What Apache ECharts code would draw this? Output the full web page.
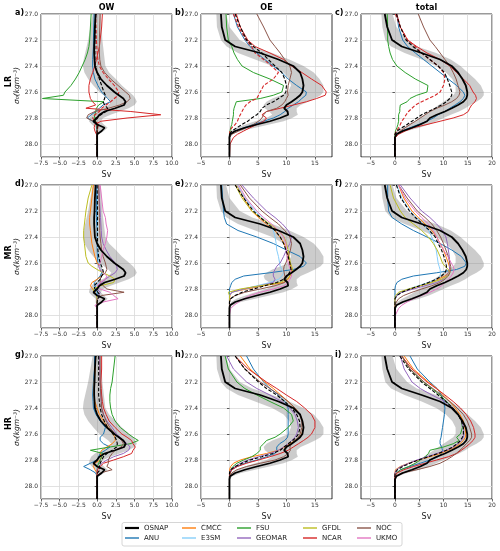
<!DOCTYPE html>
<html><head><meta charset="utf-8">
<script src="https://cdn.jsdelivr.net/npm/echarts@6/dist/echarts.min.js"></script>
<style>html,body{margin:0;padding:0;background:#fff}#c{width:500px;height:551px}</style>
</head><body><div id="c"></div>
<script>
// density levels (sigma0, kg m-3)
const LEV = [27.0,27.1,27.2,27.25,27.3,27.35,27.4,27.45,27.5,27.55,27.6,27.625,27.65,27.675,27.7,27.725,27.75,27.775,27.8,27.825,27.85,27.875,27.9,27.925,27.95,28.0,28.1];

// OSNAP observations and uncertainty band
const OSNAP_OW  = [-0.2,-0.3,-0.35,-0.4,-0.4,-0.35,-0.3,0.0,0.5,1.3,2.3,2.9,3.5,3.8,3.6,2.4,1.0,0.3,0.0,-0.5,0.0,1.0,0.6,0.0,0,0,0];
const BAND_OW_LO = [-0.6,-0.9,-1.2,-1.4,-1.6,-1.8,-1.9,-1.7,-1.2,-0.5,0.3,0.9,1.5,1.9,1.5,0.7,-0.3,-0.8,-1.0,-1.1,-0.7,-0.2,-0.2,-0.1,0,0,0];
const BAND_OW_HI = [0.5,0.6,0.7,0.8,0.9,1.0,1.1,1.6,2.5,3.3,4.3,4.8,5.1,5.3,5.0,4.2,3.0,1.8,0.8,0.5,0.9,1.4,0.9,0.2,0,0,0];
const OSNAP_OE  = [-1.5,-1.35,-0.75,1.0,5.4,8.6,11.2,12.4,12.8,13.0,12.8,12.4,11.7,10.9,10.0,9.6,10.2,10.3,8.9,7.1,4.8,2.7,1.0,0.1,0,0,0];
const BAND_OE_LO = [-2.3,-2.2,-1.5,-0.5,1.5,4.5,7.5,9.5,10.5,10.8,10.3,9.0,7.5,6.5,6.0,6.2,7.0,7.5,6.5,4.5,2.8,1.2,0.3,0,0,0,0];
const BAND_OE_HI = [-0.6,0.0,1.8,4.0,7.5,10.5,13.0,14.8,15.8,16.5,16.5,16.0,15.0,13.8,12.5,11.8,11.8,12.0,11.0,9.5,7.0,4.5,2.0,0.5,0,0,0];
const OSNAP_TOT = [-2.1,-1.6,-0.6,1.4,5.5,9.3,11.7,13.0,13.9,14.6,14.9,14.9,14.7,14.1,13.0,11.7,10.3,8.6,7.2,6.6,5.2,3.5,1.6,0.3,0,0,0];
const BAND_TOT_LO = [-2.8,-2.6,-2.0,-0.8,2.0,5.5,8.5,10.5,11.8,12.5,12.5,12.0,11.0,10.0,9.0,8.0,7.0,6.0,5.0,4.0,2.8,1.5,0.5,0,0,0,0];
const BAND_TOT_HI = [-0.5,0.3,2.5,4.5,8.5,11.5,13.5,15.0,16.5,17.7,18.3,18.3,17.8,16.8,15.5,14.5,13.2,11.5,10.0,8.5,7.0,5.0,2.5,0.5,0,0,0];

// LR models
const LR_OW_ANU  = [-0.4,-0.45,-0.5,-0.5,-0.55,-0.6,-0.6,-0.5,-0.3,0.1,0.6,1.0,1.4,1.8,0.8,0.3,-0.2,-0.8,-1.3,-0.6,0.0,0.0,-0.1,0,0,0,0];
const LR_OW_FSU  = [-0.8,-0.9,-1.0,-1.1,-1.3,-1.6,-2.0,-2.4,-2.9,-3.5,-4.3,-4.5,-7.3,0.9,0.2,-0.1,-0.2,-0.3,-0.4,-0.2,0,0,0,0,0,0,0];
const LR_OW_NCAR = [0.7,0.6,0.4,0.3,0.1,-0.1,-0.3,-0.6,-0.9,-1.1,-1.1,-1.0,-0.9,-0.6,-0.2,-1.5,4.5,8.5,4.0,0.5,-0.3,-0.4,-0.3,-0.1,0,0,0];
const LR_OW_NCAR2 = [-0.2,-0.15,-0.1,-0.05,0.0,0.1,0.3,0.8,1.5,2.3,2.9,2.8,2.3,1.8,1.2,0.6,0.3,-0.3,-0.6,-0.3,0.2,0,0,0,0,0,0];
const LR_OW_NOC  = [0.4,0.35,0.3,0.3,0.3,0.35,0.5,1.0,1.8,2.8,3.8,4.3,4.4,4.0,3.0,1.5,-0.3,-1.2,-1.4,-0.5,0.2,0.1,0,0,0,0,0];
const LR_OW_MEAN = [-0.2,-0.25,-0.3,-0.3,-0.3,-0.3,-0.3,0.0,0.3,0.6,0.9,1.1,1.0,0.8,1.0,1.4,1.2,0.5,-0.2,-0.3,0.0,0,0,0,0,0,0];

const LR_OE_ANU  = [0.7,1.4,2.7,3.6,4.8,6.2,7.7,9.2,10.3,11.8,13.5,13.4,12.7,12.1,11.2,10.3,9.7,8.9,7.7,6.0,4.2,2.5,1.0,0.2,0,0,0];
const LR_OE_FSU  = [-0.6,-0.5,-0.2,0.4,0.8,1.4,2.2,4.2,7.1,9.5,9.2,7.7,5.4,1.2,1.0,0.8,0.7,0.7,0.6,0.5,0.4,0.2,0.1,0,0,0,0];
const LR_OE_NCAR = [1.2,1.9,3.2,4.5,7.1,9.5,10.9,12.7,14.4,16.2,17.0,16.8,15.3,13.5,11.2,8.9,6.5,5.7,6.5,6.0,4.8,3.6,2.5,1.4,0.7,0.1,0];
const LR_OE_NCAR2 = [0.7,1.6,2.9,3.9,4.5,6.0,7.4,8.6,7.7,6.0,5.4,5.1,4.8,3.6,2.9,2.5,2.2,1.9,1.6,1.4,1.0,0.4,0.1,0,0,0,0];
const LR_OE_NOC  = [4.8,6.0,7.1,8.0,8.9,9.7,10.6,10.9,10.6,10.3,10.2,10.3,10.0,9.7,9.2,8.3,6.5,6.0,5.7,5.1,4.2,2.9,1.6,0.4,0,0,0];
const LR_OE_MEAN = [1.0,1.9,3.0,4.2,5.7,6.8,8.0,9.2,9.7,10.0,9.9,9.5,8.6,7.7,6.5,5.7,5.4,4.8,3.9,3.2,2.2,1.3,0.4,0,0,0,0];

const LR_TOT_ANU  = [0.4,0.75,1.6,2.6,4.2,5.9,7.6,9.3,11.0,12.7,14.1,14.4,14.1,13.4,12.4,11.3,10.3,8.9,7.9,6.6,4.8,3.1,1.4,0.4,0,0,0];
const LR_TOT_FSU  = [-1.6,-1.5,-1.5,-1.3,-1.0,-0.5,0.4,2.1,4.2,6.8,6.6,4.5,3.1,2.5,1.1,1.0,1.0,0.75,0.75,0.75,0.6,0.4,0.1,0,0,0,0];
const LR_TOT_NCAR = [0.4,1.1,2.6,4.5,6.6,9.3,11.3,12.7,14.1,15.4,16.1,16.6,16.8,16.5,15.8,15.4,15.1,14.1,12.0,9.3,6.6,3.8,2.1,0.75,0.1,0,0];
const LR_TOT_NCAR2 = [0.1,1.1,2.6,4.2,5.5,7.2,8.9,10.0,10.3,10.0,9.3,8.3,6.9,5.5,4.2,3.5,2.8,2.3,1.9,1.4,1.1,0.75,0.3,0,0,0,0];
const LR_TOT_NOC  = [4.8,5.9,7.2,8.3,9.3,10.3,11.3,12.0,12.6,13.0,13.4,13.2,12.7,11.7,10.3,8.6,7.2,6.2,5.2,4.2,3.1,2.1,1.1,0.3,0,0,0];
const LR_TOT_MEAN = [0.3,1.1,2.3,3.7,5.5,7.2,8.9,10.2,10.8,11.3,11.7,11.7,11.3,10.6,9.6,8.3,6.9,5.5,4.5,3.5,2.5,1.4,0.4,0,0,0,0];

// MR models
const MR_OW_ANU    = [-0.1,-0.1,-0.1,-0.1,-0.05,0,0,0,0,0.05,0.1,0.2,0.4,0.6,0.4,0,-0.4,-0.3,0,0,0,0,0,0,0,0,0];
const MR_OW_CMCC   = [-0.5,-0.7,-0.9,-1.0,-1.0,-0.9,-0.8,-0.7,-0.5,-0.3,0.0,0.4,0.6,0.8,0.6,0.0,-0.7,-0.9,-0.6,-0.3,0,0,0,0,0,0,0];
const MR_OW_E3SM   = [0,0.05,0.05,0.05,0.05,0.05,0.05,0.05,0.05,0.2,0.3,0.4,0.6,0.8,0.6,0.4,0.2,-0.3,-0.4,-0.1,0,0,0,0,0,0,0];
const MR_OW_GEOMAR = [0.2,0.3,0.4,0.45,0.5,0.55,0.6,0.8,1.2,1.7,2.4,2.6,2.7,2.4,1.7,1.1,0.6,0.2,0,0.4,0.2,0,0,0,0,0,0];
const MR_OW_GFDL   = [-0.7,-1.2,-1.5,-1.6,-1.7,-1.8,-1.8,-1.7,-1.6,-1.5,-1.2,-0.7,0,0.8,1.7,2.4,2.2,0.4,-0.5,-0.4,-0.1,0,0,0,0,0,0];
const MR_OW_NOC    = [0.2,0.25,0.3,0.3,0.35,0.35,0.4,0.5,0.6,0.8,1.1,1.2,1.3,1.1,0.6,0.4,0.4,0.8,1.3,3.6,0.6,0,0,0,0,0,0];
const MR_OW_UKMO   = [0.4,0.6,0.8,1.1,1.2,1.4,1.3,1.1,0.8,0.6,0.4,0.2,0.4,0.8,1.3,1.1,0.4,0,0.4,1.7,2.2,2.8,0.8,-0.3,0,0,0];
const MR_OW_MEAN   = [0,0.02,0.05,0.05,0.05,0.05,0.05,0.05,0.1,0.2,0.4,0.6,0.75,0.85,0.6,0.4,0,-0.4,-0.3,0.1,0.4,0.1,0,0,0,0,0];

const MR_OE_ANU    = [-1.35,-1.2,-1.05,-0.9,-0.5,1.5,4.8,7.7,10.0,12.4,13.5,13.0,11.2,7.1,2.5,1.0,0.4,0.2,0,0,0,0,0,0,0,0,0];
const MR_OE_CMCC   = [1.3,2.5,3.9,5.1,6.5,8.0,8.9,9.6,10.0,10.3,10.6,10.7,10.9,10.8,10.6,10.3,9.5,6.0,3.0,0.4,0.1,0,0,0,0,0,0];
const MR_OE_E3SM   = [1.4,2.7,4.5,5.7,6.8,7.7,8.0,8.2,8.3,8.6,8.8,8.9,9.2,9.5,9.2,8.6,7.1,4.8,2.5,0.4,0,0,0,0,0,0,0];
const MR_OE_GEOMAR = [2.2,4.2,6.5,8.0,9.3,10.3,10.9,10.6,10.0,9.5,8.9,8.3,8.0,7.7,7.7,8.0,7.7,5.4,2.5,0.4,0,0,0,0,0,0,0];
const MR_OE_GFDL   = [1.0,2.2,3.9,5.4,7.1,8.6,9.6,10.0,10.3,10.5,10.7,10.9,11.1,10.9,10.6,10.0,8.9,5.4,1.9,-0.2,0,0,0,0,0,0,0];
const MR_OE_NOC    = [1.9,3.5,5.7,7.1,8.6,9.7,10.6,10.9,10.7,10.3,9.9,9.6,9.5,9.6,9.7,10.0,9.7,8.0,5.4,2.7,1.0,0.2,0,0,0,0,0];
const MR_OE_UKMO   = [1.6,2.9,4.8,6.0,7.4,8.6,9.5,9.9,10.0,10.1,10.3,10.5,10.7,10.9,10.9,10.6,10.3,9.5,7.7,5.4,3.6,2.5,1.6,0.8,0.2,0,0];
const MR_OE_MEAN   = [1.0,2.5,4.2,5.4,6.8,8.0,8.9,9.5,9.9,10.3,10.6,10.7,10.8,10.5,10.2,9.5,8.3,6.2,4.2,2.2,1.0,0.2,0,0,0,0,0];

const MR_TOT_ANU    = [-1.5,-1.5,-1.3,-0.6,1.4,3.8,6.6,9.3,11.7,13.7,14.7,14.4,12.7,8.6,3.8,1.4,0.4,0.1,0,0,0,0,0,0,0,0,0];
const MR_TOT_CMCC   = [0.75,1.8,3.5,4.8,6.2,7.6,8.6,9.3,10.0,10.5,11.0,11.2,11.3,11.0,10.3,8.9,7.2,5.2,3.1,1.1,0.3,0,0,0,0,0,0];
const MR_TOT_E3SM   = [0.4,1.4,3.1,4.4,5.7,6.9,7.6,8.1,8.5,8.7,8.9,9.1,9.3,9.4,9.3,8.6,6.9,4.8,2.8,1.1,0.3,0,0,0,0,0,0];
const MR_TOT_GEOMAR = [1.1,3.1,5.5,7.2,8.6,9.8,10.5,10.8,11.0,11.2,11.3,11.3,11.2,11.0,10.6,10.0,8.6,6.2,3.8,1.4,0.4,0,0,0,0,0,0];
const MR_TOT_GFDL   = [-1.0,-0.3,1.1,2.1,3.8,5.5,6.9,7.9,8.7,9.3,9.8,10.3,11.0,11.3,10.8,9.6,7.6,5.2,2.8,0.75,0.1,0,0,0,0,0,0];
const MR_TOT_NOC    = [0.75,2.5,4.6,6.2,7.6,8.6,9.4,10.0,10.5,11.0,11.3,11.5,11.5,11.3,11.0,10.3,9.3,7.6,5.5,3.5,1.8,0.75,0.3,0,0,0,0];
const MR_TOT_UKMO   = [0.75,2.1,4.2,5.5,6.9,7.9,8.6,9.3,10.0,10.9,11.6,12.0,12.2,12.0,11.6,11.0,10.3,9.6,8.6,7.2,5.5,3.8,2.5,1.4,0.75,0.1,0];
const MR_TOT_MEAN   = [0.3,1.2,3.0,4.2,5.7,7.1,8.3,8.9,9.6,10.1,10.5,10.6,10.6,10.3,9.6,8.5,6.9,5.1,3.1,1.4,0.4,0,0,0,0,0,0];

// HR models
const HR_OW_ANU    = [-0.35,-0.35,-0.5,-0.55,-0.6,-0.55,-0.5,-0.15,0.4,1.1,0.85,0.4,0.4,0.85,1.7,1.1,0.4,0.2,0,-0.9,-1.8,-0.9,-0.2,0,0,0,0];
const HR_OW_CMCC   = [-0.2,-0.25,-0.4,-0.4,-0.4,-0.3,0,0.3,0.85,1.5,2.1,2.4,2.4,2.0,1.3,0.6,0.4,0.6,0.4,-0.3,-0.5,-0.3,0,0,0,0,0];
const HR_OW_FSU    = [2.4,2.2,2.0,1.8,1.7,1.7,1.8,2.0,2.4,3.1,4.2,4.8,5.5,4.4,1.7,-0.9,0.8,0.6,0.4,0.2,0.05,0,0,0,0,0,0];
const HR_OW_GEOMAR = [0.3,0.35,0.4,0.45,0.5,0.55,0.6,0.85,1.3,2.0,2.6,3.1,3.5,4.0,4.4,4.2,3.5,2.2,1.3,0.6,0.2,0,0,0,0,0,0];
const HR_OW_NCAR   = [0.6,0.6,0.5,0.55,0.6,0.7,0.85,1.2,1.6,2.4,3.3,4.0,4.6,4.8,5.1,4.8,4.6,3.5,2.2,0.85,0.4,0.05,0,0,0,0,0];
const HR_OW_NOC    = [0.4,0.4,0.4,0.45,0.5,0.55,0.6,0.85,1.2,1.7,2.4,2.8,3.3,3.5,3.2,2.4,2.0,1.7,1.5,1.5,1.3,2.0,0.4,0,0,0,0];
const HR_OW_MEAN   = [0.2,0.2,0.2,0.2,0.2,0.3,0.4,0.6,0.95,1.4,2.1,2.4,2.6,2.7,2.6,2.0,1.3,0.85,0.6,0.4,0.3,0.4,0.05,0,0,0,0];

const HR_OE_ANU    = [3.0,4.2,6.0,7.1,8.6,9.7,10.3,10.3,10.3,10.3,10.3,10.2,9.7,8.8,8.3,8.3,8.0,6.5,4.8,2.7,1.3,0.4,0.1,0,0,0,0];
const HR_OE_CMCC   = [1.9,3.6,6.2,7.7,9.0,10.3,11.5,12.4,12.8,13.0,12.7,12.3,11.5,10.6,9.7,8.6,6.5,3.9,1.9,0.7,0.2,0,0,0,0,0,0];
const HR_OE_FSU    = [-0.75,-0.2,1.3,2.7,4.8,7.1,9.5,10.9,11.2,10.3,8.9,8.0,6.5,6.0,5.4,5.4,4.8,3.9,2.5,1.3,0.6,0.2,0.1,0,0,0,0];
const HR_OE_GEOMAR = [-0.5,0.7,3.0,4.8,7.1,9.2,10.6,11.5,11.9,12.1,11.8,11.5,10.9,10.3,9.5,8.6,7.1,5.1,3.2,1.9,1.0,0.2,0,0,0,0,0];
const HR_OE_NCAR   = [1.0,3.3,6.5,8.3,10.0,11.8,13.2,14.4,15.0,15.0,14.4,13.8,13.0,12.1,11.2,10.3,8.9,7.1,5.1,3.0,1.4,0.4,0.1,0,0,0,0];
const HR_OE_NOC    = [1.0,2.7,5.4,7.1,8.8,10.3,11.5,12.3,12.7,12.7,12.4,12.1,11.5,10.9,10.6,10.7,10.3,9.5,8.0,5.4,3.0,1.3,0.4,0,0,0,0];
const HR_OE_MEAN   = [1.0,2.7,5.1,6.5,8.3,9.7,10.9,11.8,12.3,12.4,12.1,11.7,11.1,10.3,9.6,8.9,7.6,5.7,3.6,2.2,1.0,0.2,0,0,0,0,0];

const HR_TOT_ANU    = [3.1,4.6,7.2,8.7,9.6,10.1,10.3,10.2,10.0,9.8,9.6,9.5,9.3,9.3,9.6,9.8,9.6,8.9,7.2,5.2,3.1,1.1,0.3,0,0,0,0];
const HR_TOT_CMCC   = [1.9,3.8,6.9,8.6,10.0,11.3,12.4,13.4,14.1,14.4,14.6,14.5,14.1,13.4,12.4,11.0,9.3,7.2,4.8,2.8,1.1,0.1,0,0,0,0,0];
const HR_TOT_FSU    = [1.4,3.1,5.9,7.6,9.3,10.6,12.0,13.0,13.7,13.9,13.5,12.7,13.2,12.0,10.0,7.2,6.9,6.2,5.2,4.2,2.8,1.2,0.3,0,0,0,0];
const HR_TOT_GEOMAR = [1.1,1.9,3.5,5.2,7.6,10.3,12.0,13.0,13.7,14.1,14.2,14.1,13.7,13.0,12.0,10.6,8.6,6.6,4.5,2.8,1.2,0.3,0,0,0,0,0];
const HR_TOT_NCAR   = [1.4,3.5,6.6,8.5,10.3,12.0,13.5,14.7,15.6,16.2,16.5,16.5,16.1,15.4,14.6,13.7,12.7,11.0,8.6,6.2,3.8,1.8,0.4,0,0,0,0];
const HR_TOT_NOC    = [1.4,3.1,6.0,7.8,9.6,11.3,12.8,14.1,14.9,15.4,15.8,15.8,15.4,14.7,14.1,13.4,12.6,11.7,10.6,9.3,7.2,4.5,1.4,0.1,0,0,0];
const HR_TOT_MEAN   = [1.0,2.8,5.5,7.2,8.9,10.5,11.9,13.0,13.7,14.1,14.1,13.9,13.5,12.8,11.9,10.6,8.9,6.9,4.8,3.1,1.6,0.5,0,0,0,0,0];

// x-axis tick labels per column
const TICKS_OW  = [-7.5,-5,-2.5,0,2.5,5,7.5,10];
const TICKS_OE  = [-5,0,5,10,15];
const TICKS_TOT = [-5,0,5,10,15,20];
const COL_TITLES = ['OW','OE','total'];
const ROW_LABELS = ['LR','MR','HR'];
const PANEL_LETTERS = ['a)','b)','c)','d)','e)','f)','g)','h)','i)'];
const LEGEND_ROWS = [['OSNAP','CMCC','FSU','GFDL','NOC'],['ANU','E3SM','GEOMAR','NCAR','UKMO']];

const COLORS = {OSNAP:'#000000',ANU:'#1f77b4',CMCC:'#ff7f0e',E3SM:'#87cefa',FSU:'#2ca02c',GEOMAR:'#9467bd',GFDL:'#bcbd22',NCAR:'#d62728',NOC:'#8c564b',UKMO:'#e377c2'};

const COLS = [
  {xmin:-7.5,xmax:10,ticks:TICKS_OW,dec:1,obs:OSNAP_OW,lo:BAND_OW_LO,hi:BAND_OW_HI},
  {xmin:-5,xmax:18,ticks:TICKS_OE,dec:0,obs:OSNAP_OE,lo:BAND_OE_LO,hi:BAND_OE_HI},
  {xmin:-7,xmax:20,ticks:TICKS_TOT,dec:0,obs:OSNAP_TOT,lo:BAND_TOT_LO,hi:BAND_TOT_HI}
];
// [name, values, kind]
const PANELS = [
  [['ANU',LR_OW_ANU],['FSU',LR_OW_FSU],['NCAR',LR_OW_NCAR],['NOC',LR_OW_NOC],['NCAR (2)',LR_OW_NCAR2,'alt'],['mean',LR_OW_MEAN,'mean']],
  [['ANU',LR_OE_ANU],['FSU',LR_OE_FSU],['NCAR',LR_OE_NCAR],['NOC',LR_OE_NOC],['NCAR (2)',LR_OE_NCAR2,'alt'],['mean',LR_OE_MEAN,'mean']],
  [['ANU',LR_TOT_ANU],['FSU',LR_TOT_FSU],['NCAR',LR_TOT_NCAR],['NOC',LR_TOT_NOC],['NCAR (2)',LR_TOT_NCAR2,'alt'],['mean',LR_TOT_MEAN,'mean']],
  [['ANU',MR_OW_ANU],['CMCC',MR_OW_CMCC],['E3SM',MR_OW_E3SM],['GEOMAR',MR_OW_GEOMAR],['GFDL',MR_OW_GFDL],['NOC',MR_OW_NOC],['UKMO',MR_OW_UKMO],['mean',MR_OW_MEAN,'mean']],
  [['ANU',MR_OE_ANU],['CMCC',MR_OE_CMCC],['E3SM',MR_OE_E3SM],['GEOMAR',MR_OE_GEOMAR],['GFDL',MR_OE_GFDL],['NOC',MR_OE_NOC],['UKMO',MR_OE_UKMO],['mean',MR_OE_MEAN,'mean']],
  [['ANU',MR_TOT_ANU],['CMCC',MR_TOT_CMCC],['E3SM',MR_TOT_E3SM],['GEOMAR',MR_TOT_GEOMAR],['GFDL',MR_TOT_GFDL],['NOC',MR_TOT_NOC],['UKMO',MR_TOT_UKMO],['mean',MR_TOT_MEAN,'mean']],
  [['ANU',HR_OW_ANU],['CMCC',HR_OW_CMCC],['FSU',HR_OW_FSU],['GEOMAR',HR_OW_GEOMAR],['NCAR',HR_OW_NCAR],['NOC',HR_OW_NOC],['mean',HR_OW_MEAN,'mean']],
  [['ANU',HR_OE_ANU],['CMCC',HR_OE_CMCC],['FSU',HR_OE_FSU],['GEOMAR',HR_OE_GEOMAR],['NCAR',HR_OE_NCAR],['NOC',HR_OE_NOC],['mean',HR_OE_MEAN,'mean']],
  [['ANU',HR_TOT_ANU],['CMCC',HR_TOT_CMCC],['FSU',HR_TOT_FSU],['GEOMAR',HR_TOT_GEOMAR],['NCAR',HR_TOT_NCAR],['NOC',HR_TOT_NOC],['mean',HR_TOT_MEAN,'mean']]
];

const FONT = 'DejaVu Sans';
const GL = [41,201,361], GT = [14,185,356], GW = 131, GH = 143;
const minus = s => String(s).replace('-', '\u2212');

const grids = [], xAxes = [], yAxes = [], series = [], graphics = [];
for (let r = 0; r < 3; r++) {
  for (let c = 0; c < 3; c++) {
    const gi = r*3 + c, col = COLS[c];
    grids.push({left:GL[c], top:GT[r], width:GW, height:GH, show:true, borderColor:'#000', borderWidth:0.8, containLabel:false});
    xAxes.push({
      type:'value', gridIndex:gi, min:col.xmin, max:col.xmax,
      name:'Sv', nameLocation:'middle', nameGap:14, nameTextStyle:{fontSize:8, color:'#222', fontFamily:FONT},
      axisLine:{show:false},
      axisTick:{show:true, length:2.5, lineStyle:{color:'#000', width:0.6}, customValues:col.ticks},
      axisLabel:{fontSize:6, color:'#333', margin:3, fontFamily:FONT, customValues:col.ticks,
        formatter:v => minus(Number(v).toFixed(col.dec))},
      splitLine:{show:true, lineStyle:{color:'#d9d9d9', width:0.8}, customValues:col.ticks}
    });
    yAxes.push({
      type:'value', gridIndex:gi, inverse:true, min:27.0, max:28.1, interval:0.2,
      name:'\u03c3\u2080(kgm\u207b\u00b3)', nameLocation:'middle', nameGap:17, nameRotate:90,
      nameTextStyle:{fontSize:7.5, fontStyle:'italic', color:'#222', fontFamily:FONT},
      axisLine:{show:false},
      axisTick:{show:true, length:2.5, lineStyle:{color:'#000', width:0.6}},
      axisLabel:{fontSize:6, color:'#333', margin:3, fontFamily:FONT, showMaxLabel:false, formatter:v => Number(v).toFixed(1)},
      splitLine:{show:true, lineStyle:{color:'#d9d9d9', width:0.8}}
    });
    // uncertainty band
    series.push({
      type:'custom', name:'OSNAP range', xAxisIndex:gi, yAxisIndex:gi, silent:true, z:1,
      data:[[col.obs[0], LEV[0]]],
      renderItem:(params, api) => {
        const pts = [];
        for (let i = 0; i < LEV.length; i++) pts.push(api.coord([col.lo[i], LEV[i]]));
        for (let i = LEV.length - 1; i >= 0; i--) pts.push(api.coord([col.hi[i], LEV[i]]));
        return {type:'polygon', shape:{points:pts}, style:{fill:'rgba(128,128,128,0.4)'}};
      }
    });
    PANELS[gi].forEach(([name, vals, kind]) => {
      let color = COLORS[name], dash = 'solid', width = 1;
      if (kind === 'mean') { color = '#000'; dash = [3.5, 1.8]; width = 1.1; }
      if (kind === 'alt') { color = COLORS.NCAR; dash = [3.5, 1.8]; width = 1.1; }
      series.push({
        type:'line', name, xAxisIndex:gi, yAxisIndex:gi, symbol:'none', silent:true, z:3,
        data:LEV.map((y, i) => [vals[i], y]),
        lineStyle:{color, width, type:dash}, itemStyle:{color}
      });
    });
    series.push({
      type:'line', name:'OSNAP', xAxisIndex:gi, yAxisIndex:gi, symbol:'none', silent:true, z:4,
      data:LEV.map((y, i) => [col.obs[i], y]),
      lineStyle:{color:'#000', width:1.8}, itemStyle:{color:'#000'}
    });
    graphics.push({type:'text', left:GL[c] - 26, top:GT[r] - 5,
      style:{text:PANEL_LETTERS[gi], font:'bold 8px ' + FONT, fill:'#000'}});
  }
  graphics.push({type:'text', x:9, y:GT[r] + GH/2 - 4, rotation:Math.PI/2,
    style:{text:ROW_LABELS[r], font:'bold 8px ' + FONT, fill:'#000', align:'center', verticalAlign:'middle'}});
}
for (let c = 0; c < 3; c++) {
  graphics.push({type:'text', x:GL[c] + GW/2, y:8,
    style:{text:COL_TITLES[c], font:'bold 8px ' + FONT, fill:'#000', align:'center', verticalAlign:'middle'}});
}
graphics.push({type:'rect', shape:{x:122, y:522.5, width:280, height:23.5, r:2},
  style:{fill:'#fff', stroke:'#cccccc', lineWidth:0.8}, z:-1});

// one legend per entry so columns line up like the reference
const LX = [125, 182, 237, 303, 357], LY = [523.5, 533.5];
const legends = [];
LEGEND_ROWS.forEach((row, ri) => row.forEach((name, k) => {
  legends.push({
    orient:'horizontal', left:LX[k], top:LY[ri], itemWidth:14, itemHeight:(name === 'OSNAP' ? 2.2 : 1.4),
    icon:'rect', data:[name], selectedMode:false, padding:0,
    textStyle:{fontSize:7, color:'#222', fontFamily:FONT, lineHeight:9}
  });
}));

const chart = echarts.init(document.getElementById('c'), null, {renderer:'canvas'});
chart.setOption({
  animation:false, backgroundColor:'#fff', textStyle:{fontFamily:FONT},
  grid:grids, xAxis:xAxes, yAxis:yAxes, series, legend:legends, graphic:graphics
});
</script></body></html>
